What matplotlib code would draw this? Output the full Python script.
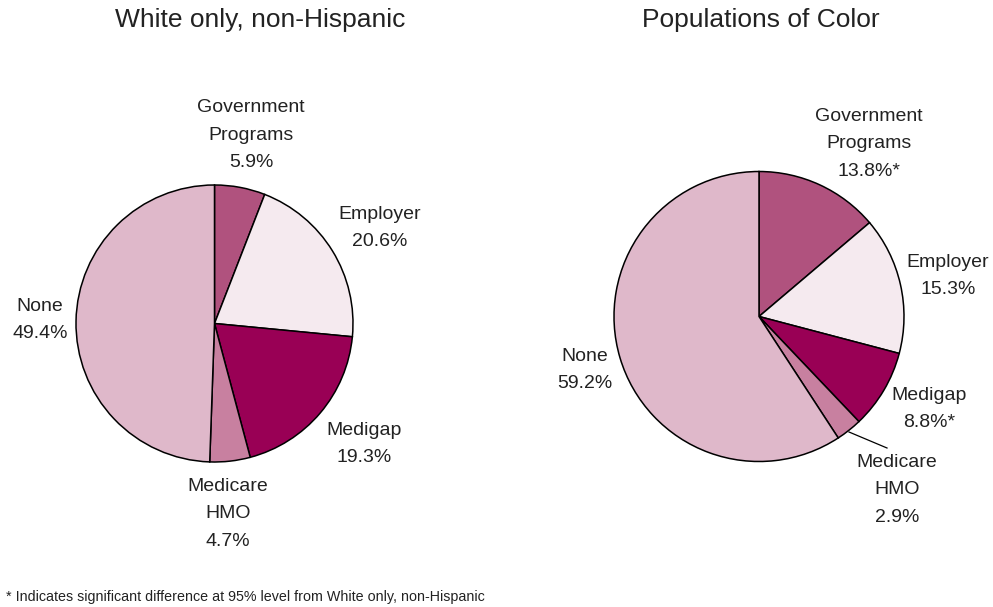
"""Two pies: supplemental coverage by group."""

import matplotlib
matplotlib.use("Agg")
import matplotlib.pyplot as plt

plt.rcParams["font.family"] = ["Liberation Sans", "DejaVu Sans"]

categories = ["Government\nPrograms", "Employer", "Medigap", "Medicare\nHMO", "None"]
white_share = [5.9, 20.6, 19.3, 4.7, 49.4]
color_share = [13.8, 15.3, 8.8, 2.9, 59.2]
color_signif = [True, False, True, False, False]
titles = ["White only, non-Hispanic", "Populations of Color"]
footnote = "* Indicates significant difference at 95% level from White only, non-Hispanic"

colors = ["#b0527e", "#f5eaef", "#990055", "#c880a0", "#dfb8ca"]
text_color = "#222222"

W, H = 993, 607

fig = plt.figure(figsize=(W / 100, H / 100), dpi=100)
ax = fig.add_axes([0, 0, 1, 1])

# pie centres / radii in pixel space (y measured from top)
pies = [
    dict(values=white_share, signif=[False] * 5, center=(214.5, 323.5), radius=138.5,
         title_x=260,
         label_pos=[(251, 135), (380, 228), (364, 444), (228, 514), (40, 320)]),
    dict(values=color_share, signif=color_signif, center=(759, 316.5), radius=145,
         title_x=761,
         label_pos=[(869, 144), (948, 276), (929, 409), (897, 490), (585, 370)]),
]

for spec, title in zip(pies, titles):
    cx, cy = spec["center"]
    ax.pie(spec["values"], colors=colors, startangle=90, counterclock=False,
           center=(cx, H - cy), radius=spec["radius"], normalize=True,
           wedgeprops=dict(edgecolor="black", linewidth=1.1))
    for cat, val, sig, (lx, ly) in zip(categories, spec["values"], spec["signif"],
                                       spec["label_pos"]):
        txt = f"{cat}\n{val:.1f}%" + ("*" if sig else "")
        ax.text(lx, H - ly, txt, ha="center", va="center", multialignment="center",
                fontsize=14, color=text_color, linespacing=1.83)
    ax.text(spec["title_x"], H - 20, title, ha="center", va="center",
            fontsize=19, color=text_color)

# leader line for the small Medicare HMO slice
ax.plot([849, 887], [H - 432, H - 448], color="black", linewidth=0.9)

ax.text(6, H - 597, footnote, ha="left", va="center", fontsize=10.3, color=text_color)

ax.set_xlim(0, W)
ax.set_ylim(0, H)
ax.set_aspect("equal")
ax.axis("off")

fig.savefig("out.png", dpi=100)
plt.close(fig)
